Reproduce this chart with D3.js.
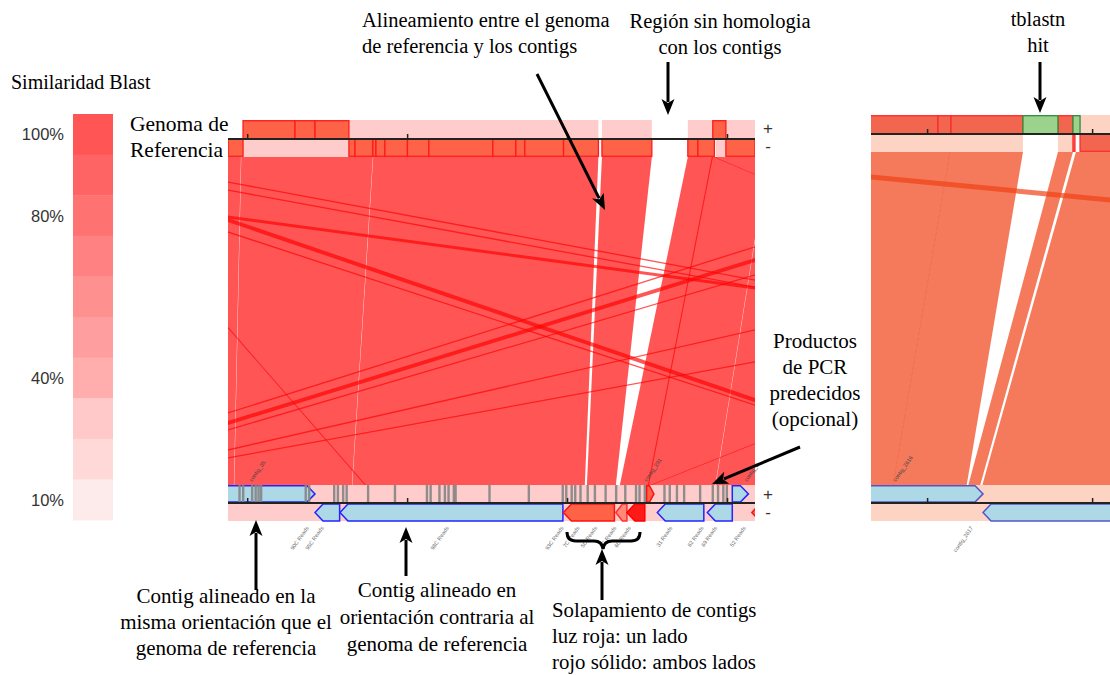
<!DOCTYPE html>
<html>
<head>
<meta charset="utf-8">
<script src="https://cdn.jsdelivr.net/npm/d3@7"></script>
<style>
  body { margin: 0; background: #fff; }
  svg { display: block; }
  .serif { font-family: "Liberation Serif", "Times New Roman", serif; fill: #000; }
  .sans { font-family: "Liberation Sans", Arial, sans-serif; fill: #333; }
  .tiny { font-family: "Liberation Sans", Arial, sans-serif; font-size: 5.5px; }
</style>
</head>
<body>
<svg id="chart" width="1110" height="675"></svg>
<script>
// ---------- legend: Blast similarity ----------
const similarityLevels = [100, 90, 80, 70, 60, 50, 40, 30, 20, 10];
const similarityTicks = [100, 80, 40, 10];

// ---------- main view: reference vs. contigs (positions in kb) ----------
const mainDomain = [2880, 6175];
const mainTicks = [3000, 4000, 5000, 6000];

// reference genome features, + strand
const refPlusHits = [[2974, 3299], [3299, 3424], [3424, 3636], [5911, 5993]];
const refPlusCovered = [[3636, 5196], [5218, 5530], [5755, 6175]];
// reference genome features, - strand
const refMinusHits = [[2880, 2974], [3636, 3674], [3674, 3786], [3786, 3805], [3805, 3861],
  [3861, 4002], [4002, 4136], [4136, 4536], [4536, 4680], [4680, 4736], [4736, 4978],
  [4978, 5196], [5218, 5530], [5755, 5818], [5818, 5921], [5993, 6175]];
const refMinusCovered = [[2974, 3636], [5930, 5993]];

// syntenic blocks: reference interval r -> contig interval q
const syntenyBlocks = [
  { r: [2000, 2961], q: [2000, 2917] },
  { r: [2963, 3786], q: [2919, 3655] },
  { r: [3788, 5196], q: [3657, 5111] },
  { r: [5218, 5530], q: [5124, 5305] },
  { r: [5755, 6257], q: [5330, 5927] },
  { r: [6259, 7000], q: [5929, 6575] }
];
// rearranged hits crossing the view
const crossHits = [
  { r: [1690, 1765], q: [7690, 7765] },
  { r: [30, 170], q: [15240, 15380] },
  { r: [2014, 2060], q: [13039, 13085] },
  { r: [1735, 1780], q: [12872, 12917] },
  { r: [1438, 1465], q: [7683, 7710] },
  { r: [8215, 8296], q: [1587, 1668] },
  { r: [7945, 7972], q: [1436, 1463] },
  { r: [10900, 10940], q: [1897, 1937] },
  { r: [13180, 13225], q: [1930, 1975] },
  { r: [8665, 8692], q: [1696, 1723] },
  { r: [1945, 1953], q: [3735, 3743] },
  { r: [5905, 5912], q: [5505, 5512] },
  { r: [10680, 10690], q: [5520, 5530] },
  { r: [5915, 5925], q: [10690, 10700] }
];

// contigs: [start, end] and overlap state
const contigsPlus = [
  { span: [2500, 3424], kind: "aligned" },
  { span: [5497, 5543], kind: "overlapOne" },
  { span: [6033, 6134], kind: "aligned" }
];
const contigsMinus = [
  { span: [3424, 3578], kind: "aligned" },
  { span: [3580, 4974], kind: "aligned" },
  { span: [4977, 5296], kind: "overlapOne" },
  { span: [5305, 5374], kind: "overlapLight" },
  { span: [5374, 5486], kind: "overlapBoth" },
  { span: [5564, 5855], kind: "aligned" },
  { span: [5877, 6033], kind: "aligned" },
  { span: [6155, 6260], kind: "overlapOne" }
];
// predicted PCR products on the contig track
const pcrProducts = [2952, 2975, 3031, 3053, 3071, 3087, 3366, 3388, 3544, 3567, 3600, 3622,
  3756, 3924, 4124, 4147, 4202, 4236, 4259, 4292, 4303, 4515, 4761, 4973, 4995, 5029,
  5051, 5084, 5129, 5174, 5241, 5307, 5364, 5431, 5453, 5486, 5609, 5642, 5687, 5732,
  5832, 5911, 5944, 5977, 5999];
const contigLabelsBelow = [
  { pos: 3387, name: "90C Reads" }, { pos: 3480, name: "95C Reads" },
  { pos: 4262, name: "98C Reads" }, { pos: 4980, name: "93C Reads" },
  { pos: 5080, name: "7C Reads" }, { pos: 5190, name: "5C Reads" },
  { pos: 5310, name: "9C Reads" }, { pos: 5400, name: "6C Reads" },
  { pos: 5660, name: "31 Reads" }, { pos: 5855, name: "62 Reads" },
  { pos: 5940, name: "69 Reads" }, { pos: 6120, name: "52 Reads" }
];
const contigLabelsAbove = [
  { pos: 3030, name: "contig_35" }, { pos: 5497, name: "contig_291" }, { pos: 6125, name: "contig_3" }
];

// ---------- right view: tblastn hit region (positions in kb) ----------
const rightDomain = [2660, 4110];
const rightTicks = [3000, 4000];
const rightPlusHits = [[2600, 3066], [3066, 3145], [3145, 3581], [3793, 3884]];
const rightPlusTblastn = [[3581, 3793], [3884, 3927]];
const rightPlusCovered = [[3927, 4110]];
const rightMinusCovered = [[2600, 3581], [3793, 3884]];
const rightMinusHits = [[3884, 3896], [3927, 4200]];
const rightBlocks = [
  { r: [2000, 3140], q: [2000, 2795] },
  { r: [3138, 3581], q: [2793, 3240] },
  { r: [3793, 3884], q: [3250, 3322] },
  { r: [3902, 5500], q: [3335, 4933] }
];
const rightCrossHits = [{ r: [930, 1245], q: [21910, 22225] }];
const rightContigsPlus = [{ span: [2000, 3339], kind: "aligned" }];
const rightContigsMinus = [{ span: [3339, 5000], kind: "aligned" }];
const rightLabelsAbove = [{ pos: 2810, name: "contig_2616" }];
const rightLabelsBelow = [{ pos: 3280, name: "contig_2617" }];

// =====================================================================
const svg = d3.select("#chart");
const defs = svg.append("defs");

// ---- similarity legend ----
const legendColor = d3.scaleLinear()
  .domain([10, 20, 30, 40, 100])
  .range(["#fdebeb", "#ffd8d8", "#ffc9c9", "#ffadad", "#ff5555"]);
const yLegend = d3.scaleBand().domain(similarityLevels).range([114, 520]);

svg.append("text").attr("class", "serif").attr("x", 11).attr("y", 89)
  .style("font-size", "20px").text("Similaridad Blast");

svg.append("g").selectAll("rect").data(similarityLevels).join("rect")
  .attr("x", 73).attr("width", 40)
  .attr("y", d => yLegend(d)).attr("height", yLegend.bandwidth() + 0.5)
  .attr("fill", d => legendColor(d));

svg.append("g").selectAll("text").data(similarityTicks).join("text")
  .attr("class", "sans").attr("text-anchor", "end")
  .attr("x", 64).attr("y", d => yLegend(d) + yLegend.bandwidth() / 2 + 6)
  .style("font-size", "16.5px")
  .text(d => d + "%");

// ---- generic comparison panel ----
function linkPath(x, yTop, yBot) {
  return d => `M${x(d.r[0])},${yTop}L${x(d.r[1])},${yTop}L${x(d.q[1])},${yBot}L${x(d.q[0])},${yBot}Z`;
}

function contigShape(x, y0, y1, strand) {
  const tip = 8, ym = (y0 + y1) / 2;
  return d => {
    const a = x(d.span[0]), b = x(d.span[1]);
    const t = Math.min(tip, (b - a) * 0.6);
    if (strand > 0) {
      return `M${a},${y0}L${b - t},${y0}L${b},${ym}L${b - t},${y1}L${a},${y1}Z`;
    }
    return `M${a},${ym}L${a + t},${y0}L${b},${y0}L${b},${y1}L${a + t},${y1}Z`;
  };
}

function drawPanel(cfg) {
  const x = d3.scaleLinear().domain(cfg.domain).range(cfg.range);
  const left = cfg.range[0];
  const right = Math.min(cfg.range[1], 1110);
  const g = svg.append("g");

  const clipId = "clip-" + cfg.id;
  defs.append("clipPath").attr("id", clipId)
    .append("rect").attr("x", left).attr("y", cfg.body[0])
    .attr("width", right - left).attr("height", cfg.body[1] - cfg.body[0]);
  const rowClip = "rowclip-" + cfg.id;
  defs.append("clipPath").attr("id", rowClip)
    .append("rect").attr("x", left).attr("y", 0)
    .attr("width", right - left).attr("height", 675);

  const rows = g.append("g").attr("clip-path", `url(#${rowClip})`);

  // reference + / - rows
  const seg = (data, y0, y1, fill, stroke) => rows.append("g").selectAll("rect").data(data).join("rect")
    .attr("x", d => x(d[0])).attr("width", d => x(d[1]) - x(d[0]))
    .attr("y", y0).attr("height", y1 - y0)
    .attr("fill", fill).attr("stroke", stroke || "none").attr("stroke-width", 1.3);

  seg(cfg.plusCovered, cfg.refPlus[0], cfg.refPlus[1], cfg.pale);
  seg(cfg.minusCovered, cfg.refPlus[1], cfg.refMinus, cfg.pale);
  seg(cfg.plusHits, cfg.refPlus[0] + 0.7, cfg.refPlus[1], cfg.hitFill, cfg.hitStroke);
  seg(cfg.minusHits, cfg.refPlus[1], cfg.refMinus - 0.7, cfg.hitFill, cfg.hitStroke);
  if (cfg.tblastn) seg(cfg.tblastn, cfg.refPlus[0] + 0.7, cfg.refPlus[1], "#9bd38c", "#2e8c3c");

  // alignment body
  const body = g.append("g").attr("clip-path", `url(#${clipId})`);
  body.append("g").selectAll("path").data(cfg.blocks).join("path")
    .attr("d", linkPath(x, cfg.body[0], cfg.body[1]))
    .attr("fill", cfg.linkFill).attr("fill-opacity", cfg.linkOpacity);
  body.append("g").selectAll("path").data(cfg.cross).join("path")
    .attr("d", linkPath(x, cfg.body[0], cfg.body[1]))
    .attr("fill", cfg.linkFill).attr("fill-opacity", cfg.linkOpacity);

  // contig track
  const [cp0, cline, cm1] = cfg.contigRows;
  rows.append("rect").attr("x", left).attr("width", right - left)
    .attr("y", cp0).attr("height", cm1 - cp0).attr("fill", cfg.pale);

  const styleOf = {
    aligned: { fill: "#add8e6", stroke: cfg.contigStroke },
    overlapOne: { fill: "#ff6347", stroke: "#ff1010" },
    overlapLight: { fill: "#ff8a78", stroke: "#ff3030" },
    overlapBoth: { fill: "#ff1a1a", stroke: "#ff0000" }
  };
  rows.append("g").selectAll("path").data(cfg.contigsMinus).join("path")
    .attr("d", contigShape(x, cline + 1, cm1, -1))
    .attr("fill", d => styleOf[d.kind].fill).attr("stroke", d => styleOf[d.kind].stroke)
    .attr("stroke-width", 1.5);
  rows.append("g").selectAll("path").data(cfg.contigsPlus).join("path")
    .attr("d", contigShape(x, cp0 + 0.8, cline - 1, 1))
    .attr("fill", d => styleOf[d.kind].fill).attr("stroke", d => styleOf[d.kind].stroke)
    .attr("stroke-width", 1.5);
  if (cfg.pcr) {
    rows.append("g").selectAll("rect").data(cfg.pcr).join("rect")
      .attr("x", d => x(d) - 1.2).attr("width", 2.4)
      .attr("y", cp0).attr("height", cline - cp0)
      .attr("fill", "#858585").attr("fill-opacity", 0.9);
  }

  // axis lines with ticks
  [cfg.refPlus[1], cline].forEach(yl => {
    const axis = d3.axisTop(x).tickValues(cfg.ticks).tickSize(5).tickFormat("");
    const ax = rows.append("g").attr("transform", `translate(0,${yl})`).call(axis);
    ax.select(".domain").remove();
    ax.selectAll(".tick line").attr("stroke", "#222").attr("stroke-width", 1.5);
    rows.append("line").attr("x1", left).attr("x2", right).attr("y1", yl).attr("y2", yl)
      .attr("stroke", "#222").attr("stroke-width", 2);
  });

  // rotated contig names
  g.append("g").selectAll("text").data(cfg.labelsAbove).join("text")
    .attr("class", "tiny").attr("fill", "#444")
    .attr("transform", d => `translate(${x(d.pos)},${cp0 - 3}) rotate(-55)`)
    .text(d => d.name);
  g.append("g").selectAll("text").data(cfg.labelsBelow).join("text")
    .attr("class", "tiny").attr("fill", "#6a6a6a").attr("text-anchor", "end")
    .attr("transform", d => `translate(${x(d.pos)},${cm1 + 7}) rotate(-55)`)
    .text(d => d.name);
  return x;
}

drawPanel({
  id: "main", domain: mainDomain, range: [228, 755], ticks: mainTicks,
  refPlus: [120, 139], refMinus: 157, body: [157, 485], contigRows: [485, 503, 521],
  pale: "#ffcccc", hitFill: "#ff6347", hitStroke: "#ff1a1a",
  plusHits: refPlusHits, plusCovered: refPlusCovered,
  minusHits: refMinusHits, minusCovered: refMinusCovered,
  blocks: syntenyBlocks, cross: crossHits, linkFill: "#ff0000", linkOpacity: 0.667,
  contigsPlus, contigsMinus, contigStroke: "#2424ff", pcr: pcrProducts,
  labelsAbove: contigLabelsAbove, labelsBelow: contigLabelsBelow
});

drawPanel({
  id: "right", domain: rightDomain, range: [871, 1110.25], ticks: rightTicks,
  refPlus: [115, 134], refMinus: 152, body: [152, 485], contigRows: [485, 503, 521],
  pale: "#fdd3c4", hitFill: "#f26650", hitStroke: "#ff2a2a",
  plusHits: rightPlusHits, plusCovered: rightPlusCovered, tblastn: rightPlusTblastn,
  minusHits: rightMinusHits, minusCovered: rightMinusCovered,
  blocks: rightBlocks, cross: rightCrossHits, linkFill: "#ef4116", linkOpacity: 0.7,
  contigsPlus: rightContigsPlus, contigsMinus: rightContigsMinus, contigStroke: "#5555c8",
  pcr: null, labelsAbove: rightLabelsAbove, labelsBelow: rightLabelsBelow
});

// strand marks
const strandMarks = [
  { t: "+", x: 768, y: 134 }, { t: "-", x: 768, y: 152 },
  { t: "+", x: 768, y: 500 }, { t: "-", x: 768, y: 518 }
];
svg.append("g").selectAll("text").data(strandMarks).join("text")
  .attr("class", "sans").attr("text-anchor", "middle")
  .attr("x", d => d.x).attr("y", d => d.y).style("font-size", "17px").text(d => d.t);

// ---------- annotations ----------
const notes = [
  { lines: ["Genoma de", "Referencia"], x: 130, y: 131, anchor: "start", dy: 26, size: 21.5 },
  { lines: ["Alineamiento entre el genoma", "de referencia y los contigs"], x: 362, y: 27, anchor: "start", dy: 26, size: 20.5 },
  { lines: ["Región sin homologia", "con los contigs"], x: 720, y: 28, anchor: "middle", dy: 26, size: 20.5 },
  { lines: ["tblastn", "hit"], x: 1038, y: 26, anchor: "middle", dy: 26, size: 20.5 },
  { lines: ["Productos", "de PCR", "predecidos", "(opcional)"], x: 815, y: 348, anchor: "middle", dy: 26, size: 21 },
  { lines: ["Contig alineado en la", "misma orientación que el", "genoma de referencia"], x: 226, y: 603, anchor: "middle", dy: 26, size: 21 },
  { lines: ["Contig alineado en", "orientación contraria al", "genoma de referencia"], x: 437, y: 597, anchor: "middle", dy: 27, size: 21 },
  { lines: ["Solapamiento de contigs", "luz roja: un lado", "rojo sólido: ambos lados"], x: 552, y: 617, anchor: "start", dy: 26, size: 20.8 }
];
const noteG = svg.append("g");
notes.forEach(n => {
  const t = noteG.append("text").attr("class", "serif").attr("text-anchor", n.anchor)
    .style("font-size", n.size + "px");
  n.lines.forEach((s, i) => t.append("tspan").attr("x", n.x).attr("y", n.y + i * n.dy).text(s));
});

const arrows = [
  { from: [537, 74], to: [605, 210] },
  { from: [668, 62], to: [668, 115] },
  { from: [1040, 62], to: [1040, 113] },
  { from: [800, 447], to: [712, 484] },
  { from: [256, 590], to: [256, 520] },
  { from: [406, 576], to: [406, 527] },
  { from: [602, 600], to: [602, 549] }
];
const arrowG = svg.append("g");
arrows.forEach(a => {
  const [x1, y1] = a.from, [x2, y2] = a.to;
  const len = Math.hypot(x2 - x1, y2 - y1), ux = (x2 - x1) / len, uy = (y2 - y1) / len;
  const hl = 16, hw = 6.5;
  const bx = x2 - ux * hl, by = y2 - uy * hl;
  arrowG.append("line").attr("x1", x1).attr("y1", y1).attr("x2", bx + ux * 3).attr("y2", by + uy * 3)
    .attr("stroke", "#000").attr("stroke-width", 3);
  arrowG.append("path")
    .attr("d", `M${x2},${y2}L${bx - uy * hw},${by + ux * hw}L${bx + ux * 4},${by + uy * 4}L${bx + uy * hw},${by - ux * hw}Z`)
    .attr("fill", "#000");
});

// brace over the overlapping contigs
arrowG.append("path")
  .attr("d", "M567,532Q567,541 576,541L594,541Q602,541 603,549Q604,541 612,541L631,541Q640,541 640,532")
  .attr("fill", "none").attr("stroke", "#000").attr("stroke-width", 3);
</script>
</body>
</html>
